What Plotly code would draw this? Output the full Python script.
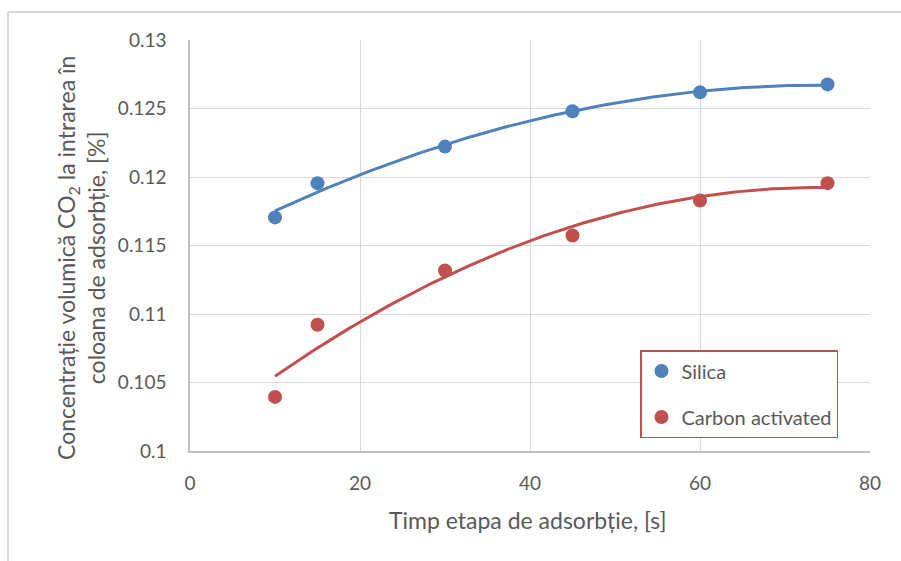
import numpy as np
import plotly.graph_objects as go

# Adsorption step time [s]
time_s = [10, 15, 30, 45, 60, 75]
# Volumetric CO2 concentration at the column inlet [%]
silica = [0.11705, 0.11955, 0.12222, 0.12480, 0.12618, 0.12676]
carbon = [0.10395, 0.10922, 0.11317, 0.11573, 0.11829, 0.11955]

series_names = ["Silica", "Carbon activated"]
series_colors = ["#4F81BD", "#C0504D"]

x_ticks = [0, 20, 40, 60, 80]
y_ticks = [0.1, 0.105, 0.11, 0.115, 0.12, 0.125, 0.13]
y_tick_text = ["0.1", "0.105", "0.11", "0.115", "0.12", "0.125", "0.13"]

FONT = "Lato"
GREY = "#595959"

W, H = 901, 561
ML, MR, MT, MB = 190, 31, 40, 110
PW, PH = W - ML - MR, H - MT - MB


def px_x(p):
    return (p - ML) / PW


def px_y(p):
    return 1 - (p - MT) / PH


fig = go.Figure()

# second-order polynomial trendlines fitted to each series
xs_fit = np.linspace(min(time_s), max(time_s), 200)
for vals, color in zip([silica, carbon], series_colors):
    coef = np.polyfit(time_s, vals, 2)
    fig.add_trace(go.Scatter(
        x=xs_fit, y=np.polyval(coef, xs_fit), mode="lines",
        line=dict(color=color, width=3), showlegend=False, hoverinfo="skip",
    ))

for i, (vals, name, color) in enumerate(zip([silica, carbon], series_names, series_colors)):
    fig.add_trace(go.Scatter(
        x=time_s, y=vals, mode="markers", name=name, legendgroup=f"g{i}",
        marker=dict(color=color, size=14),
    ))

fig.update_layout(
    width=W, height=H,
    margin=dict(l=ML, r=MR, t=MT, b=MB),
    paper_bgcolor="white", plot_bgcolor="white",
    font=dict(family=FONT, color=GREY, size=19),
    legend=dict(
        x=px_x(640), y=px_y(350), xanchor="left", yanchor="top",
        bordercolor="#C0504D", borderwidth=1.5, bgcolor="white",
        font=dict(family=FONT, size=20, color=GREY),
        itemwidth=30, tracegroupgap=17,
    ),
    xaxis=dict(
        range=[0, 80], tickvals=x_ticks, showgrid=True, gridcolor="#D9D9D9",
        gridwidth=1.3, zeroline=False, showline=True, linecolor="#BFBFBF",
        linewidth=1.5, ticks="", ticklabelstandoff=14,
        tickfont=dict(family=FONT, size=19, color=GREY),
    ),
    yaxis=dict(
        range=[0.1, 0.13], tickvals=y_ticks, ticktext=y_tick_text,
        showgrid=True, gridcolor="#D9D9D9", gridwidth=1.3, zeroline=False,
        showline=True, linecolor="#BFBFBF", linewidth=1.5, ticks="",
        ticklabelstandoff=18,
        tickfont=dict(family=FONT, size=19, color=GREY),
    ),
    annotations=[
        dict(
            text="Timp etapa de adsorbție, [s]", xref="paper", yref="paper",
            x=px_x(528), y=px_y(520), xanchor="center", yanchor="middle",
            showarrow=False, font=dict(family=FONT, size=23, color=GREY),
        ),
        dict(
            text="Concentrație volumică CO<sub>2</sub> la intrarea în<br>coloana de adsorbție, [%]",
            xref="paper", yref="paper", x=px_x(81), y=px_y(258),
            xanchor="center", yanchor="middle", textangle=-90,
            showarrow=False, font=dict(family=FONT, size=23, color=GREY),
        ),
    ],
    shapes=[
        # chart frame (top and left edges)
        dict(type="line", xref="paper", yref="paper",
             x0=px_x(8), x1=px_x(W + 5), y0=px_y(12), y1=px_y(12),
             line=dict(color="#D9D9D9", width=2)),
        dict(type="line", xref="paper", yref="paper",
             x0=px_x(8), x1=px_x(8), y0=px_y(12), y1=px_y(H + 5),
             line=dict(color="#D9D9D9", width=2)),
    ],
)

fig.write_html("out.html")
